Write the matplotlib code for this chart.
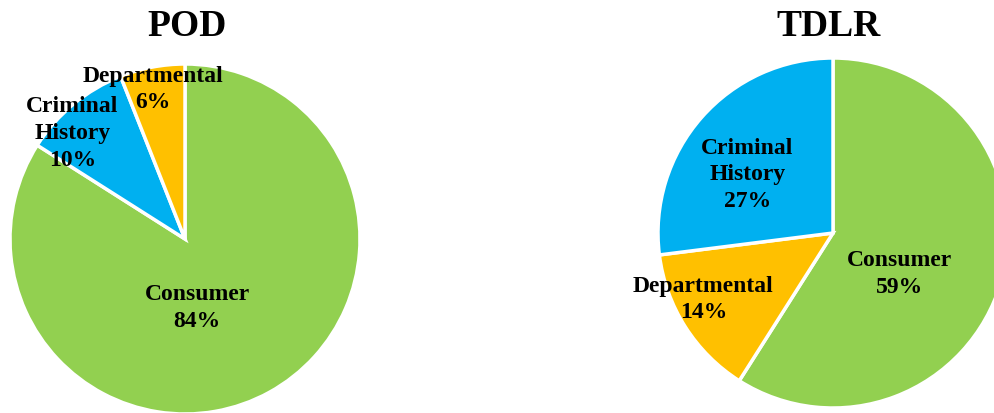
import matplotlib
matplotlib.use('Agg')
import matplotlib.pyplot as plt

# data
pod_labels = ['Consumer', 'Criminal\nHistory', 'Departmental']
pod_values = [84, 10, 6]
pod_colors = ['#92D050', '#00B0F0', '#FFC000']

tdlr_labels = ['Consumer', 'Departmental', 'Criminal\nHistory']
tdlr_values = [59, 14, 27]
tdlr_colors = ['#92D050', '#FFC000', '#00B0F0']

# label spots (in units of the pie radius), like Excel's best fit
pod_label_pos = [(0.069, -0.39), (-0.644, 0.609), (-0.184, 0.859)]
tdlr_label_pos = [(0.379, -0.23), (-0.741, -0.374), (-0.489, 0.339)]

plt.rcParams['font.family'] = ['Liberation Serif', 'DejaVu Serif']
plt.rcParams['font.weight'] = 'bold'

W, H = 994, 414
fig = plt.figure(figsize=(W / 100, H / 100), dpi=100)


def pie_axes(cx, cy, r):
    # cx, cy, r in pixels, cy measured from the top
    return fig.add_axes([(cx - r) / W, (H - cy - r) / H, 2 * r / W, 2 * r / H])


def draw(ax, values, labels, colors, label_pos):
    ax.pie(values, colors=colors, startangle=90, counterclock=False,
           wedgeprops=dict(edgecolor='white', linewidth=2.5))
    total = sum(values)
    for (x, y), lab, v in zip(label_pos, labels, values):
        ax.text(x, y, f'{lab}\n{round(100 * v / total)}%', ha='center', va='center',
                fontsize=17, fontweight='bold', linespacing=1.35, color='black')
    ax.set_xlim(-1, 1)
    ax.set_ylim(-1, 1)
    ax.set_aspect('equal')
    ax.axis('off')


ax1 = pie_axes(185, 240, 175)
draw(ax1, pod_values, pod_labels, pod_colors, pod_label_pos)

ax2 = pie_axes(833, 234, 175)
draw(ax2, tdlr_values, tdlr_labels, tdlr_colors, tdlr_label_pos)

fig.text(187 / W, 1 - 26 / H, 'POD', ha='center', va='center', fontsize=27, fontweight='bold')
fig.text(829 / W, 1 - 26 / H, 'TDLR', ha='center', va='center', fontsize=27, fontweight='bold')

fig.savefig('out.png', dpi=100)
